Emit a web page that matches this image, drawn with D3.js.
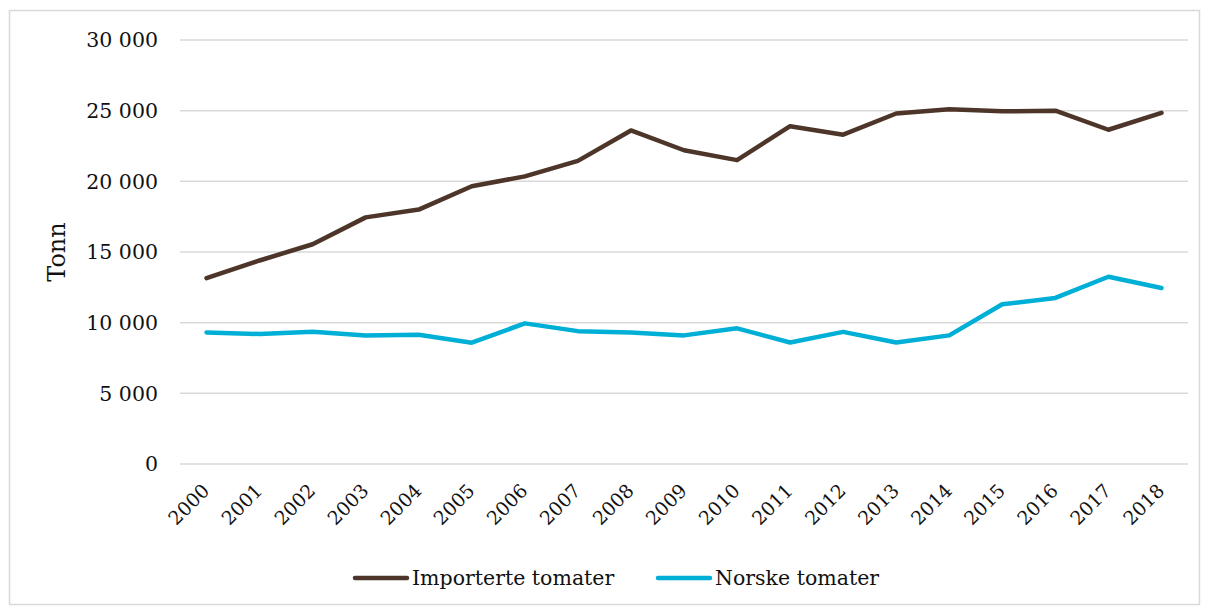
<!DOCTYPE html>
<html lang="no">
<head>
<meta charset="UTF-8">
<title>Tomater</title>
<script src="https://d3js.org/d3.v7.min.js"></script>
<style>
  body { margin: 0; background: #fff; }
  svg { display: block; font-family: "DejaVu Serif", Georgia, serif; }
  .grid line { stroke: #d9d9d9; stroke-width: 1.5; }
  .tick-y { font-size: 20.5px; fill: #111; }
  .tick-x { font-size: 19px; fill: #111; }
  .legend text { font-size: 20.5px; fill: #111; }
</style>
</head>
<body>
<div id="chart"></div>
<script>
const years = ["2000","2001","2002","2003","2004","2005","2006","2007","2008","2009",
               "2010","2011","2012","2013","2014","2015","2016","2017","2018"];
const importerte = [13150, 14400, 15550, 17450, 18000, 19650, 20350, 21450, 23600, 22200,
                    21500, 23900, 23300, 24800, 25100, 24950, 25000, 23650, 24850];
const norske = [9300, 9200, 9350, 9100, 9150, 8580, 9950, 9400, 9300, 9100,
                9600, 8600, 9350, 8600, 9100, 11300, 11750, 13250, 12450];
const yTicks = [0, 5000, 10000, 15000, 20000, 25000, 30000];
const seriesNames = ["Importerte tomater", "Norske tomater"];
const colors = ["#4d3629", "#00afd6"];

const W = 1208, H = 610;
const margin = {top: 40, right: 20, bottom: 146, left: 180};
const width = 1188 - margin.left, height = 464 - margin.top;

const svg = d3.select("#chart").append("svg").attr("width", W).attr("height", H);

svg.append("rect")
  .attr("x", 9.5).attr("y", 10.5).attr("width", 1190).attr("height", 594)
  .attr("fill", "none").attr("stroke", "#d9d9d9").attr("stroke-width", 1.5);

const g = svg.append("g").attr("transform", `translate(${margin.left},${margin.top})`);

const x = d3.scaleBand().domain(years).range([0, width]);
const y = d3.scaleLinear().domain([0, 30000]).range([height, 0]);

const fmt = v => d3.format(",")(v).replace(/,/g, " ");

// grid lines
g.append("g").attr("class", "grid")
  .selectAll("line").data(yTicks).enter().append("line")
  .attr("x1", 0).attr("x2", width)
  .attr("y1", d => y(d)).attr("y2", d => y(d));

// y tick labels
g.selectAll(".tick-y").data(yTicks).enter().append("text")
  .attr("class", "tick-y")
  .attr("x", -22).attr("y", d => y(d))
  .attr("dy", "0.35em")
  .attr("text-anchor", "end")
  .text(fmt);

// x tick labels, rotated
g.selectAll(".tick-x").data(years).enter().append("text")
  .attr("class", "tick-x")
  .attr("text-anchor", "end")
  .attr("transform", d => `translate(${x(d) + x.bandwidth() / 2 + 4},${height + 28}) rotate(-45)`)
  .text(d => d);

// axis title
svg.append("text")
  .attr("transform", "translate(65,252) rotate(-90)")
  .attr("text-anchor", "middle")
  .style("font-size", "24px").attr("fill", "#111")
  .text("Tonn");

const line = d3.line()
  .x((d, i) => x(years[i]) + x.bandwidth() / 2)
  .y(d => y(d));

[importerte, norske].forEach((s, i) => {
  g.append("path")
    .datum(s)
    .attr("fill", "none")
    .attr("stroke", colors[i])
    .attr("stroke-width", 4.5)
    .attr("stroke-linejoin", "round")
    .attr("stroke-linecap", "round")
    .attr("d", line);
});

// legend
const legendX = [355, 658];
const legend = svg.append("g").attr("class", "legend");
seriesNames.forEach((name, i) => {
  legend.append("line")
    .attr("x1", legendX[i]).attr("x2", legendX[i] + 52)
    .attr("y1", 578).attr("y2", 578)
    .attr("stroke", colors[i]).attr("stroke-width", 4.5)
    .attr("stroke-linecap", "round");
  legend.append("text")
    .attr("x", legendX[i] + 57).attr("y", 578).attr("dy", "0.35em")
    .text(name);
});
</script>
</body>
</html>
